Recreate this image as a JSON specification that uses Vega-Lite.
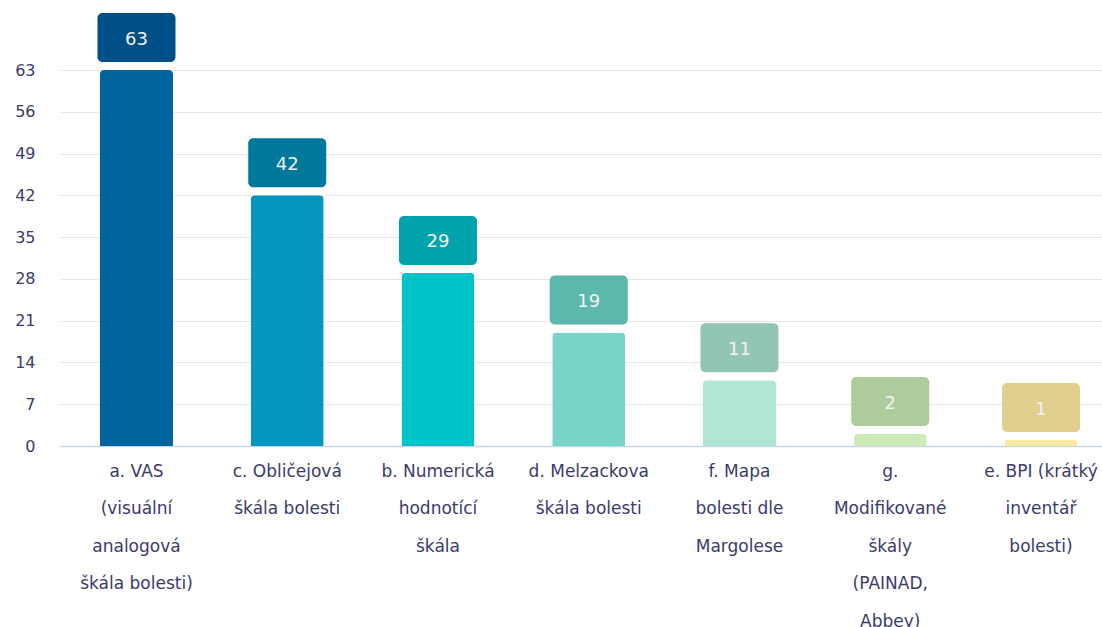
{
  "$schema": "https://vega.github.io/schema/vega-lite/v6.json",
  "width": 1042,
  "height": 376,
  "autosize": {"type": "none"},
  "padding": {"left": 60, "top": 70, "right": 0, "bottom": 181},
  "background": "white",
  "config": {"view": {"stroke": null}, "font": "DejaVu Sans"},
  "data": {
    "values": [
      {"category": "a. VAS (visuální analogová škála bolesti)", "value": 63},
      {"category": "c. Obličejová škála bolesti", "value": 42},
      {"category": "b. Numerická hodnotící škála", "value": 29},
      {"category": "d. Melzackova škála bolesti", "value": 19},
      {"category": "f. Mapa bolesti dle Margolese", "value": 11},
      {"category": "g. Modifikované škály (PAINAD, Abbey)", "value": 2},
      {"category": "e. BPI (krátký inventář bolesti)", "value": 1}
    ]
  },
  "encoding": {
    "x": {
      "field": "category",
      "type": "nominal",
      "sort": null,
      "scale": {"paddingInner": 0.5157, "paddingOuter": 0.2139, "align": 0.62},
      "axis": {
        "title": null,
        "labelAngle": 0,
        "ticks": false,
        "domainColor": "#c9d5ea",
        "domainWidth": 1.5,
        "labelPadding": 17,
        "labelFontSize": 17,
        "labelColor": "#3b3a6e",
        "labelLineHeight": 37.5,
        "labelBaseline": "top",
        "labelOverlap": false,
        "labelLimit": 0,
        "labelExpr": "{'a. VAS (visuální analogová škála bolesti)': ['a. VAS', '(visuální', 'analogová', 'škála bolesti)'], 'c. Obličejová škála bolesti': ['c. Obličejová', 'škála bolesti'], 'b. Numerická hodnotící škála': ['b. Numerická', 'hodnotící', 'škála'], 'd. Melzackova škála bolesti': ['d. Melzackova', 'škála bolesti'], 'f. Mapa bolesti dle Margolese': ['f. Mapa', 'bolesti dle', 'Margolese'], 'g. Modifikované škály (PAINAD, Abbey)': ['g.', 'Modifikované', 'škály', '(PAINAD,', 'Abbey)'], 'e. BPI (krátký inventář bolesti)': ['e. BPI (krátký', 'inventář', 'bolesti)']}[datum.value]"
      }
    }
  },
  "layer": [
    {
      "mark": {"type": "bar", "width": 73, "cornerRadiusTopLeft": 4, "cornerRadiusTopRight": 4},
      "encoding": {
        "y": {
          "field": "value",
          "type": "quantitative",
          "scale": {"domain": [0, 63], "nice": false},
          "axis": {
            "title": null,
            "values": [0, 7, 14, 21, 28, 35, 42, 49, 56, 63],
            "domain": false,
            "ticks": false,
            "gridColor": "#e6e6e6",
            "labelPadding": 25,
            "labelFontSize": 16,
            "labelColor": "#3b3a6e"
          }
        },
        "color": {
          "field": "category",
          "type": "nominal",
          "legend": null,
          "scale": {
            "domain": ["a. VAS (visuální analogová škála bolesti)", "c. Obličejová škála bolesti", "b. Numerická hodnotící škála", "d. Melzackova škála bolesti", "f. Mapa bolesti dle Margolese", "g. Modifikované škály (PAINAD, Abbey)", "e. BPI (krátký inventář bolesti)"],
            "range": ["#00649f", "#0596bd", "#00c2c9", "#78d3c8", "#b0e6d3", "#cdebb8", "#fbe9a0"]
          }
        }
      }
    },
    {
      "mark": {"type": "bar", "width": 78, "cornerRadius": 5, "yOffset": -57, "y2Offset": -8},
      "encoding": {
        "y": {"field": "value", "type": "quantitative"},
        "y2": {"field": "value"},
        "color": {
          "field": "category",
          "type": "nominal",
          "legend": null,
          "scale": {
            "domain": ["a. VAS (visuální analogová škála bolesti)", "c. Obličejová škála bolesti", "b. Numerická hodnotící škála", "d. Melzackova škála bolesti", "f. Mapa bolesti dle Margolese", "g. Modifikované škály (PAINAD, Abbey)", "e. BPI (krátký inventář bolesti)"],
            "range": ["#004f86", "#00789c", "#00a3ac", "#5cb8ad", "#92c6b2", "#aecb9b", "#e0cf8e"]
          }
        }
      }
    },
    {
      "mark": {"type": "text", "dy": -30.5, "fontSize": 18, "color": "#f2f2f2"},
      "encoding": {
        "y": {"field": "value", "type": "quantitative"},
        "text": {"field": "value", "type": "quantitative"}
      }
    }
  ],
  "resolve": {"scale": {"color": "independent"}}
}
